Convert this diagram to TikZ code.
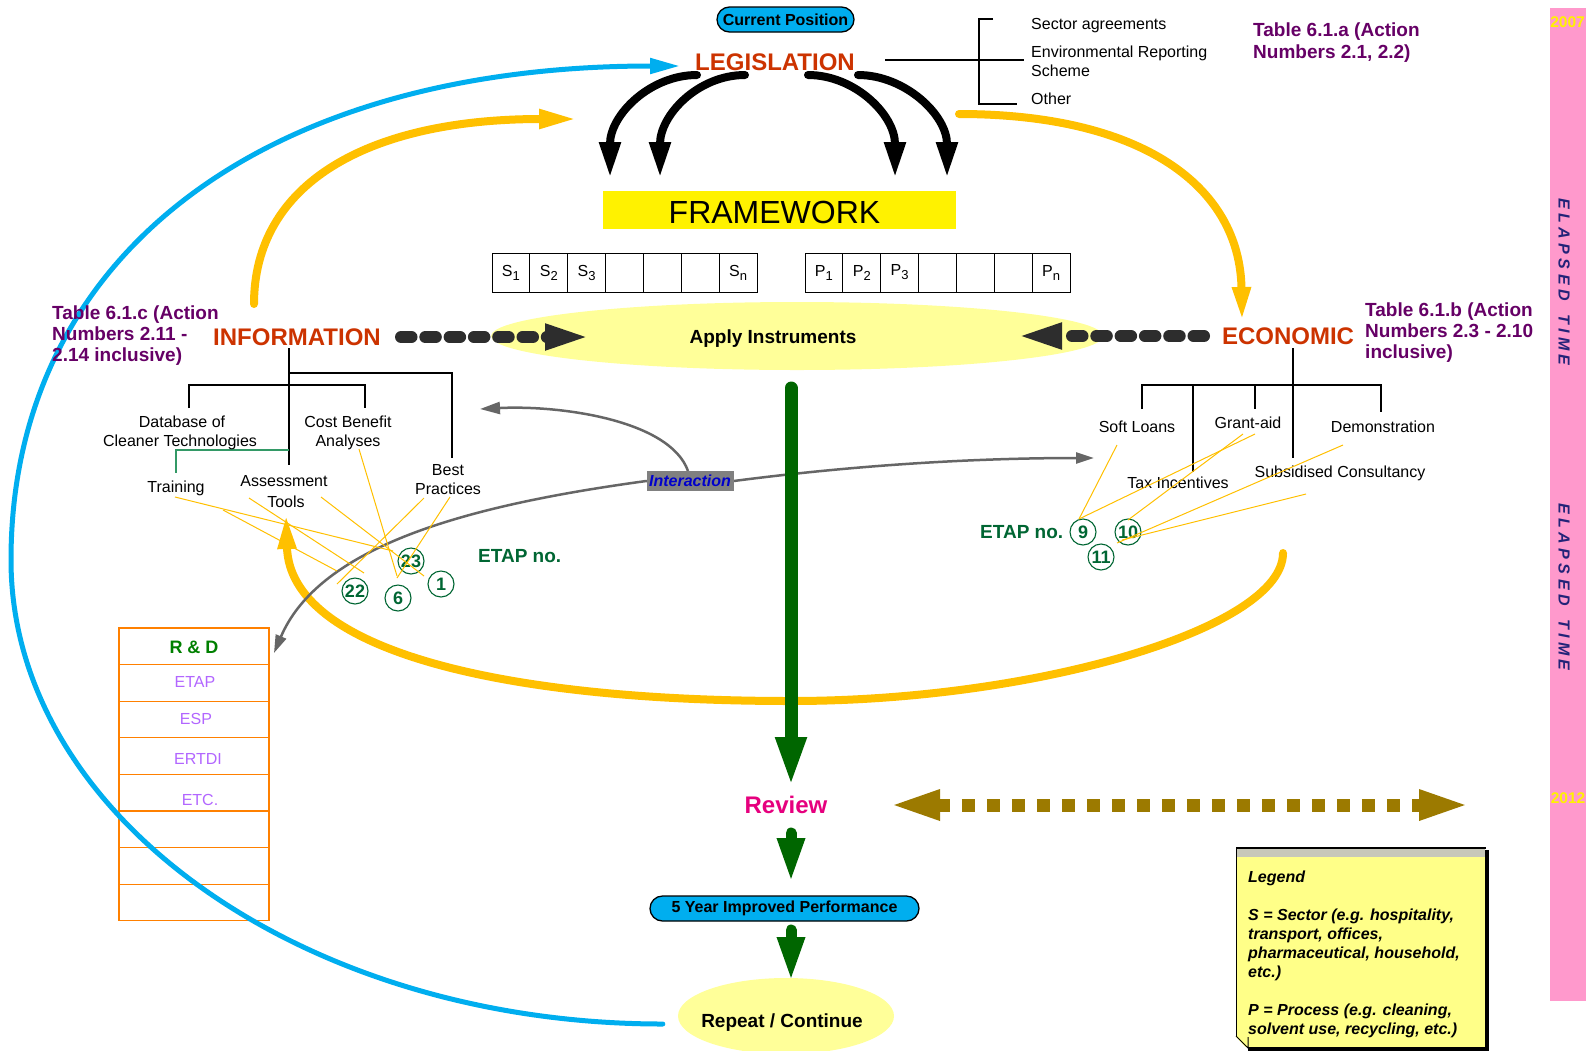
\documentclass[tikz,border=0pt]{standalone}
\usepackage{fontspec}
\setmainfont{Liberation Sans}
\usetikzlibrary{arrows.meta,shapes.geometric,shapes.misc}
\definecolor{cyanA}{RGB}{0,174,239}
\definecolor{goldA}{RGB}{255,192,0}
\definecolor{paleY}{RGB}{255,255,153}
\definecolor{frameY}{RGB}{255,242,0}
\definecolor{pinkA}{RGB}{255,153,204}
\definecolor{purpA}{RGB}{102,0,102}
\definecolor{etapG}{RGB}{0,102,51}
\definecolor{rdG}{RGB}{0,128,0}
\definecolor{treeG}{RGB}{51,153,102}
\definecolor{redA}{RGB}{204,51,0}
\definecolor{brownA}{RGB}{156,122,0}
\definecolor{darkG}{RGB}{0,102,0}
\definecolor{grayA}{RGB}{102,102,102}
\definecolor{labGray}{RGB}{128,128,128}
\definecolor{lilac}{RGB}{178,102,255}
\definecolor{navyA}{RGB}{35,35,120}
\definecolor{magA}{RGB}{230,0,126}
\definecolor{orangeA}{RGB}{255,128,0}
\definecolor{noteY}{RGB}{255,255,136}
\definecolor{dashG}{RGB}{45,45,45}
\definecolor{blueT}{RGB}{0,0,204}
\newcommand{\myfs}[2]{\fontsize{#1pt}{#2pt}\selectfont}
\newcommand{\mysub}[1]{\raisebox{-4pt}{\myfs{13}{14}#1}}
\begin{document}
\begin{tikzpicture}[x=1pt,y=-1pt,
  txt/.style={inner sep=0pt, font=\myfs{16}{19}, anchor=base},
  txtw/.style={txt, anchor=base west},
  bigred/.style={inner sep=0pt, font=\bfseries\myfs{24}{28}, text=redA, anchor=base},
  tabtxt/.style={inner sep=0pt, font=\bfseries\myfs{19}{21}, text=purpA, anchor=base west},
  etap/.style={inner sep=0pt, font=\bfseries\myfs{19}{21}, text=etapG, anchor=base west},
  numc/.style={circle, draw=etapG, line width=1.1pt, text=etapG, font=\bfseries\myfs{18}{20}, inner sep=0pt, minimum size=26pt},
  pillbox/.style={rounded rectangle, draw=black, line width=1.3pt, fill=cyanA, inner sep=0pt, minimum height=25pt, font=\bfseries\myfs{16}{18}},
  cell/.style={draw=black, line width=1pt, minimum width=37.86pt, minimum height=39pt, inner sep=0pt, font=\myfs{16}{18}},
  rdcell/.style={draw=orangeA, line width=1.3pt, minimum width=150pt, minimum height=36.6pt, inner sep=0pt},
  rdtxt/.style={inner sep=0pt, font=\myfs{16}{18}, text=lilac, anchor=base},
  treeline/.style={draw=black, line width=1.2pt},
  ylink/.style={draw=goldA, line width=1pt},
  blackarc/.style={draw=black, line width=8pt, line cap=round, -{Triangle[length=36pt,width=20pt]}},
  goldarc/.style={draw=goldA, line width=8pt, line cap=round},
  pilldash/.style={draw=dashG, line width=12pt, line cap=round, dash pattern=on 10.5pt off 13.8pt, -{Triangle[length=47pt,width=23pt]}},
  grayarr/.style={draw=grayA, line width=2.5pt},
  greenarr/.style={draw=darkG, line cap=round},
  legtxt/.style={inner sep=0pt, font=\bfseries\itshape\myfs{16}{19}, anchor=base west},
  yeartxt/.style={inner sep=0pt, font=\bfseries\myfs{15.5}{17}, text=yellow, anchor=base},
  elapsed/.style={inner sep=0pt, font=\bfseries\itshape\myfs{16}{18}, text=navyA, rotate=-90}
]
\useasboundingbox (0,0) rectangle (1586,1050);
\fill[white] (0,0) rectangle (1586,1050);

% elapsed time bar
\node[fill=pinkA, minimum width=36pt, minimum height=993pt, inner sep=0pt, anchor=north west] (bar) at (1550,8) {};
\node[yeartxt] (y2007) at (1567.5,27) {2007};
\node[yeartxt] (y2012) at (1568,803) {2012};
\node[elapsed] (el1) at (1564,282) {E L A P S E D ~ T I M E};
\node[elapsed] (el2) at (1564,587) {E L A P S E D ~ T I M E};

% ellipses
\node[ellipse, fill=paleY, minimum width=612pt, minimum height=68pt, inner sep=0pt] (apply) at (797,336) {};
\node[ellipse, fill=paleY, minimum width=216pt, minimum height=76pt, inner sep=0pt] (rep) at (786,1016) {};

% framework and cells
\node[fill=frameY, minimum width=353pt, minimum height=38pt, inner sep=0pt] (frame) at (779.5,210) {};
\node[inner sep=0pt, font=\myfs{32}{36}, anchor=base] (frametxt) at (774.5,223) {FRAMEWORK};
\foreach \t [count=\i from 0] in {S\mysub{1},S\mysub{2},S\mysub{3},{},{},{},S\mysub{n}}
  \node[cell] (s\i) at ({510.93+\i*37.86},272.5) {\t};
\foreach \t [count=\i from 0] in {P\mysub{1},P\mysub{2},P\mysub{3},{},{},{},P\mysub{n}}
  \node[cell] (p\i) at ({823.93+\i*37.86},272.5) {\t};

% gold arcs
\coordinate (gA0) at (254,304);
\coordinate (gA1) at (577,119);
\draw[goldarc, -{Triangle[length=38pt,width=18pt]}] (gA0) .. controls (254,184) and (367,119) .. (gA1);
\coordinate (gB0) at (959,114);
\coordinate (gB1) at (1242,321);
\draw[goldarc, -{Triangle[length=34pt,width=17pt]}] (gB0) .. controls (1142,114) and (1240,186) .. (gB1);
\coordinate (gC0) at (1283,553);
\coordinate (gCm) at (791,701);
\coordinate (gC1) at (286,514);
\draw[goldarc, -{Triangle[length=35pt,width=17pt]}] (gC0) .. controls (1283,628) and (1037,701) .. (gCm)
   .. controls (500,701) and (290,650) .. (gC1);

% R&D table
\foreach \k in {0,...,7}
  \node[rdcell] (rd\k) at (194,{646.3+\k*36.6}) {};
\node[inner sep=0pt, font=\bfseries\myfs{18}{20}, text=rdG, anchor=base] (rdt) at (194,653) {R \& D};
\node[rdtxt] (rd1t) at (195,687) {ETAP};
\node[rdtxt] (rd2t) at (196,724) {ESP};
\node[rdtxt] (rd3t) at (198,764) {ERTDI};
\node[rdtxt] (rd4t) at (200,805) {ETC.};

% blue loop
\coordinate (bl1) at (11,560);
\coordinate (blEnd) at (680,66);
\draw[draw=cyanA, line width=5pt, line cap=round, -{Triangle[length=30pt,width=15pt]}]
  (rep.west) ++(-15,8) coordinate (bl0) .. controls (303,1024) and (11,816) .. (bl1)
  .. controls (11,254) and (265,66) .. (blEnd);

% interaction curves
\node[fill=labGray, minimum width=87pt, minimum height=20pt, inner sep=0pt, font=\bfseries\itshape\myfs{16}{18}, text=blueT] (inter) at (690,481) {Interaction};
\coordinate (grL) at (274,653);
\coordinate (grR) at (1094,458);
\coordinate (grU) at (480,409);
\draw[grayarr, {Triangle[length=18pt,width=11pt]}-{Triangle[length=18pt,width=11pt]}]
  (grL) .. controls (320,545) and (470,505) .. (inter.west) -- (inter.east)
  .. controls (880,462) and (1000,458) .. (grR);
\draw[grayarr, -{Triangle[length=20pt,width=12pt]}] (688,471) .. controls (670,420) and (560,405) .. (grU);
\node[fill=labGray, minimum width=87pt, minimum height=20pt, inner sep=0pt, font=\bfseries\itshape\myfs{16}{18}, text=blueT] at (inter) {Interaction};

% green arrows
\draw[greenarr, line width=13pt, -{Triangle[length=50pt,width=28pt]}] (791,388) -- (791,787);
\node[pillbox, minimum width=269pt] (five) at (784.5,908.5) {5 Year Improved Performance};
\draw[greenarr, line width=11pt, -{Triangle[length=45pt,width=25pt]}] (791,833) -- (791,883);
\draw[greenarr, line width=11pt, -{Triangle[length=45pt,width=25pt]}] (791,930) -- (791,982);

% legislation
\node[pillbox, minimum width=137pt] (cp) at (785.5,19.5) {Current Position};
\node[bigred] (legis) at (775,70) {LEGISLATION};
\draw[blackarc] (697,75) .. controls (650,75) and (610,115) .. (610,178);
\draw[blackarc] (745,75) .. controls (698,75) and (660,115) .. (660,178);
\draw[blackarc] (808,75) .. controls (855,75) and (895,115) .. (895,178);
\draw[blackarc] (858,75) .. controls (905,75) and (947,115) .. (947,178);

% legislation bracket
\draw[treeline] (885,60) -- (1024,60);
\draw[treeline] (993,19) -- (979,19) -- (979,104) -- (1017,104);
\node[txtw] (sa) at (1031,29.5) {Sector agreements};
\node[txtw] (ers1) at (1031,57.5) {Environmental Reporting};
\node[txtw] (ers2) at (1031,76) {Scheme};
\node[txtw] (oth) at (1031,104) {Other};
\node[tabtxt] (ta1) at (1253,36.8) {Table 6.1.a (Action};
\node[tabtxt] (ta2) at (1253,58.8) {Numbers 2.1, 2.2)};

% information / economic
\node[bigred] (info) at (297,345) {INFORMATION};
\node[bigred] (econ) at (1288,344) {ECONOMIC};
\node[inner sep=0pt, font=\bfseries\myfs{19}{22}, anchor=base] (aptext) at (773,343.5) {Apply Instruments};
\draw[pilldash] (401,337) -- (592,337);
\draw[pilldash] (1204,336) -- (1015,336);
\node[tabtxt] (tc1) at (52,319.8) {Table 6.1.c (Action};
\node[tabtxt] (tc2) at (52,340.8) {Numbers 2.11 -};
\node[tabtxt] (tc3) at (52,361.8) {2.14 inclusive)};
\node[tabtxt] (tb1) at (1365,316.8) {Table 6.1.b (Action};
\node[tabtxt] (tb2) at (1365,337.8) {Numbers 2.3 - 2.10};
\node[tabtxt] (tb3) at (1365,358.8) {inclusive)};

% information tree
\draw[treeline] (289,348) -- (289,465);
\draw[treeline] (289,373) -- (452,373) -- (452,458);
\draw[treeline] (189,408) -- (189,385) -- (365,385) -- (365,408);
\draw[draw=treeG, line width=1.2pt] (289,450) -- (176,450) -- (176,473);
\node[txt] (db1) at (182,427) {Database of};
\node[txt] (db2) at (180,446) {Cleaner Technologies};
\node[txt] (cb1) at (348,427) {Cost Benefit};
\node[txt] (cb2) at (348,446) {Analyses};
\node[txt] (tr) at (176,492) {Training};
\node[txt] (as1) at (284,486) {Assessment};
\node[txt] (as2) at (286,507) {Tools};
\node[txt] (bp1) at (448,475) {Best};
\node[txt] (bp2) at (448,494) {Practices};
\node[etap] (etapL) at (478,562) {ETAP no.};
\node[numc] (n23) at (411,561) {23};
\node[numc] (n22) at (355,591) {22};
\node[numc] (n6) at (398,598) {6};
\node[numc] (n1) at (441,584) {1};
\draw[ylink] (175,497) -- (393,551);
\draw[ylink] (223,510) -- (337,571);
\draw[ylink] (249,498) -- (364,573);
\draw[ylink] (321,497) -- (424,576);
\draw[ylink] (359,449) -- (397,576);
\draw[ylink] (424,498) -- (337,584);
\draw[ylink] (450,497) -- (397,578);

% economic tree
\draw[treeline] (1293,348) -- (1293,458);
\draw[treeline] (1142,409) -- (1142,385) -- (1381,385) -- (1381,412);
\draw[treeline] (1193,385) -- (1193,472);
\draw[treeline] (1255,385) -- (1255,409);
\node[txt] (sl) at (1137,432) {Soft Loans};
\node[txt] (ga) at (1248,428) {Grant-aid};
\node[txt] (dm) at (1383,432) {Demonstration};
\node[txt] (ti) at (1178,488) {Tax Incentives};
\node[txt] (sc) at (1340,477) {Subsidised Consultancy};
\node[etap] (etapR) at (980,538) {ETAP no.};
\node[numc] (n9) at (1083,532) {9};
\node[numc] (n10) at (1128,532) {10};
\node[numc] (n11) at (1101,557) {11};
\draw[ylink] (1117,445) -- (1079,519);
\draw[ylink] (1255,434) -- (1079,519);
\draw[ylink] (1243,434) -- (1128,520);
\draw[ylink] (1343,445) -- (1117,543);
\draw[ylink] (1306,494) -- (1122,540);

% review
\node[inner sep=0pt, font=\bfseries\myfs{24}{28}, text=magA, anchor=base] (revtxt) at (786,813) {Review};
\draw[draw=brownA, line width=13pt, dash pattern=on 13pt off 12pt,
  {Triangle[length=52pt,width=27pt]}-{Triangle[length=52pt,width=27pt]}] (888,805) -- (1471,805);
\node[inner sep=0pt, font=\bfseries\myfs{19}{22}, anchor=base] (reptxt) at (782,1027) {Repeat / Continue};

% legend note
\node[fill=noteY, minimum width=249pt, minimum height=199pt, inner sep=0pt, anchor=north west] (legend) at (1236,848) {};
\fill[fill={rgb,255:red,200;green,200;blue,185}] (1236,848) rectangle (1485,857);
\draw[line width=2pt] (1236,848) -- (1486,848);
\draw[line width=1pt] (1236,848) -- (1236,1036);
\draw[line width=3.5pt] (1487,850) -- (1487,1049) -- (1248,1049);
\fill[white] (1236,1037) -- (1236,1050) -- (1248,1050) -- cycle;
\draw[line width=1pt] (1236,1036) -- (1248,1048) -- (1248,1037);
\node[legtxt] (lg0) at (1248,882) {Legend};
\node[legtxt] (lg1) at (1248,920) {S = Sector (e.g. hospitality,};
\node[legtxt] (lg2) at (1248,939) {transport, offices,};
\node[legtxt] (lg3) at (1248,958) {pharmaceutical, household,};
\node[legtxt] (lg4) at (1248,977) {etc.)};
\node[legtxt] (lg5) at (1248,1015) {P = Process (e.g. cleaning,};
\node[legtxt] (lg6) at (1248,1034) {solvent use, recycling, etc.)};
\end{tikzpicture}
\end{document}
